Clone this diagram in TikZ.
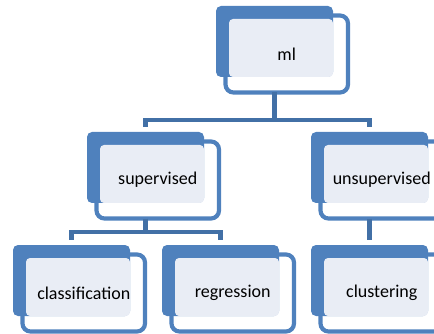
\documentclass[tikz,border=0pt]{standalone}
\usepackage{fontspec}
\setmainfont{Carlito}
\usepackage{xcolor}
\definecolor{BackBlue}{RGB}{79,129,189}
\definecolor{LineBlue}{RGB}{66,112,166}
\definecolor{PaleBlue}{RGB}{233,237,245}
\usetikzlibrary{calc,backgrounds}

\begin{document}
\begin{tikzpicture}[x=1pt, y=-1pt,
    box/.style={draw=BackBlue, line width=4.2pt, rounded corners=8pt, outer sep=0pt,
        inner sep=0pt, minimum width=122.5pt, minimum height=77pt,
        font=\fontsize{18}{21}\selectfont, text=black},
    conn/.style={draw=LineBlue, line width=4.5pt}]
    \useasboundingbox (0,0) rectangle (434,334);
    \clip (0,0) rectangle (434,334);

    % Boxes
    \node[box] (ml) at (286.75, 54) {ml};
    \node[box] (sup) at (157.75, 180) {supervised};
    \node[box] (unsup) at (381.75, 180) {unsupervised};
    \node[box] (cls) at (83.75, 293) {classification};
    \node[box] (reg) at (232.75, 293) {regression};
    \node[box] (clu) at (381.75, 293) {clustering};

    % Back and pale panels
    \begin{scope}[on background layer]
        \foreach \n in {ml,sup,unsup,cls,reg,clu} {
            \fill[BackBlue, rounded corners=5pt] ($(\n.north west)+(-9.5,-9.5)$) rectangle ++(117,71);
            \fill[PaleBlue, rounded corners=4pt] ($(\n.north west)+(3.5,3.5)$) rectangle ($(\n.north west)+(107.5,61.5)$);
        }
    \end{scope}

    % Connectors
    \draw[conn] ([xshift=-12.25pt]ml.south) -- ++(0,27.5) -| ([xshift=-12.25pt,yshift=14.5pt]sup.north);
    \draw[conn] ([xshift=-12.25pt]ml.south) -- ++(0,27.5) -| ([xshift=-12.25pt,yshift=14.5pt]unsup.north);
    \draw[conn] ([xshift=-12.25pt]sup.south) -- ++(0,13.5) -| ([xshift=-12.25pt,yshift=14.5pt]cls.north);
    \draw[conn] ([xshift=-12.25pt]sup.south) -- ++(0,13.5) -| ([xshift=-12.25pt,yshift=14.5pt]reg.north);
    \draw[conn] ([xshift=-12.25pt]unsup.south) -- ([xshift=-12.25pt,yshift=14.5pt]clu.north);
\end{tikzpicture}
\end{document}
